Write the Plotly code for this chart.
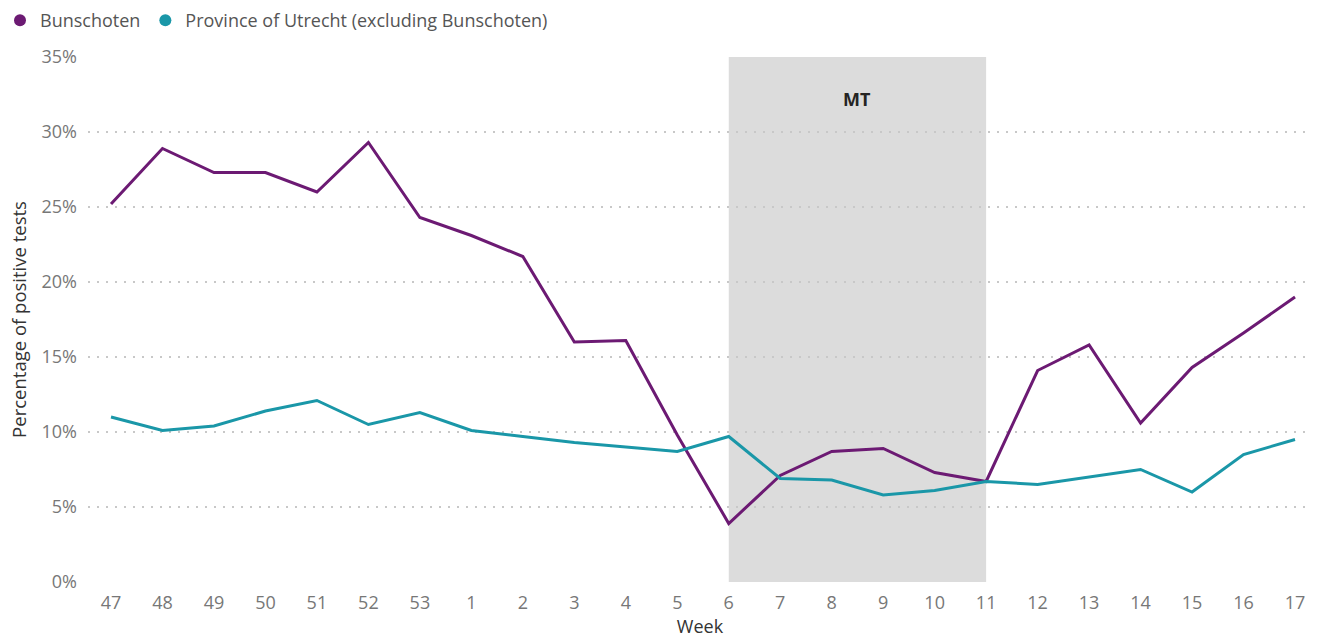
import plotly.graph_objects as go

# ─── Data ─────────────────────────────────────────────────────────────────────

weeks = ["47", "48", "49", "50", "51", "52", "53", "1", "2", "3", "4", "5",
         "6", "7", "8", "9", "10", "11", "12", "13", "14", "15", "16", "17"]

bunschoten = [25.2, 28.9, 27.3, 27.3, 26.0, 29.3, 24.3, 23.1, 21.7, 16.0, 16.1, 9.8,
              3.9, 7.1, 8.7, 8.9, 7.3, 6.7, 14.1, 15.8, 10.6, 14.3, 16.6, 19.0]

utrecht = [11.0, 10.1, 10.4, 11.4, 12.1, 10.5, 11.3, 10.1, 9.7, 9.3, 9.0, 8.7,
           9.7, 6.9, 6.8, 5.8, 6.1, 6.7, 6.5, 7.0, 7.5, 6.0, 8.5, 9.5]

y_ticks = [0, 5, 10, 15, 20, 25, 30, 35]
y_labels = [f"{v}%" for v in y_ticks]

shade_start, shade_end = "6", "11"
shade_label = "MT"

# ─── Style ────────────────────────────────────────────────────────────────────

PURPLE = "#6c1a73"
TEAL = "#1a97a8"
FONT = "Open Sans, DejaVu Sans, sans-serif"

fig = go.Figure()

# line traces (legend handled by marker-only dummies so it shows dots)
fig.add_trace(go.Scatter(x=weeks, y=bunschoten, mode="lines",
                         line=dict(color=PURPLE, width=3), showlegend=False))
fig.add_trace(go.Scatter(x=weeks, y=utrecht, mode="lines",
                         line=dict(color=TEAL, width=3), showlegend=False))

fig.add_trace(go.Scatter(x=[None], y=[None], mode="markers", name="Bunschoten",
                         marker=dict(color=PURPLE, size=12)))
fig.add_trace(go.Scatter(x=[None], y=[None], mode="markers",
                         name="Province of Utrecht (excluding Bunschoten)",
                         marker=dict(color=TEAL, size=12)))

# shaded MT period; translucent so the dotted grid still shows through
i0, i1 = weeks.index(shade_start), weeks.index(shade_end)
fig.add_shape(type="rect", xref="x", yref="y", x0=i0, x1=i1, y0=0, y1=max(y_ticks),
              fillcolor="rgba(0,0,0,0.137)", line=dict(width=0), layer="below")
fig.add_annotation(x=(i0 + i1) / 2, y=32.2, xref="x", yref="y",
                   text=f"<b>{shade_label}</b>", showarrow=False,
                   font=dict(size=18, color="#252423", family=FONT))

fig.update_xaxes(type="category", range=[-0.447, 23.33], showgrid=False,
                 automargin=False, ticks="", ticklabelstandoff=8,
                 tickfont=dict(size=18, color="#777777"),
                 title=dict(text="Week", font=dict(size=18, color="#333333"), standoff=4))
fig.update_yaxes(range=[0, 35], tickvals=y_ticks, ticktext=y_labels,
                 gridcolor="#c8c8c8", griddash="2px,7px", gridwidth=1.5, zeroline=False,
                 automargin=False, ticks="", ticklabelstandoff=10,
                 tickfont=dict(size=18, color="#777777"),
                 title=dict(text="Percentage of positive tests",
                            font=dict(size=18.5, color="#333333"), standoff=10))

fig.update_layout(
    width=1318, height=639,
    paper_bgcolor="white", plot_bgcolor="white",
    font=dict(family=FONT),
    margin=dict(l=88, r=6, t=57, b=57),
    legend=dict(orientation="h", xref="container", yref="container",
                x=0, y=0.968, xanchor="left", yanchor="middle",
                font=dict(size=18, color="#555555"), itemwidth=30,
                tracegroupgap=0),
)

fig.write_html("out.html", config={"displayModeBar": False},
               post_script="document.body.style.margin='0';")
